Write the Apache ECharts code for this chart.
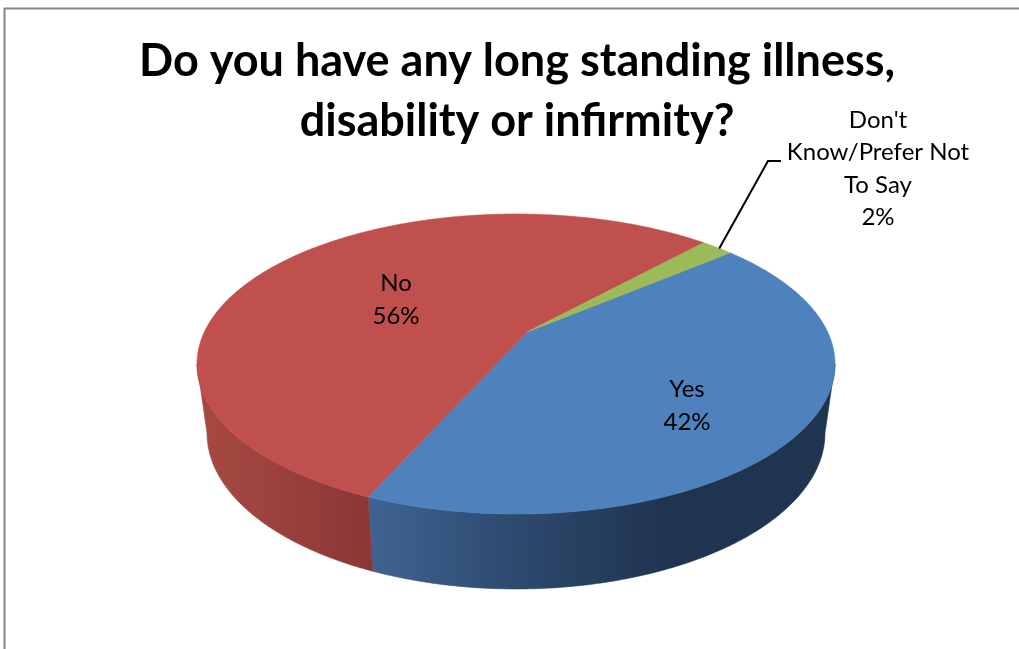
<!DOCTYPE html>
<html><head><meta charset="utf-8">
<style>html,body{margin:0;padding:0;background:#fff}#c{width:1019px;height:649px}</style>
<script src="https://cdn.jsdelivr.net/npm/echarts@6/dist/echarts.min.js"></script>
</head><body><div id="c"></div>
<script>
const titleText = "Do you have any long standing illness,\ndisability or infirmity?";
const categories = ["Yes", "No", "Don't\nKnow/Prefer Not\nTo Say"];
const values = [42, 56, 2];
const topColors = ["#4F81BD", "#C0504D", "#9BBB59"];

// Projection of the pie disc: a perspective view of a circle
const view = {ex:516, ey:364, rx:319, ry:150, apexX:527, apexY:332, lowCy:433, lowRx:309, lowRy:156, startDeg:-38.8};
const k = (182/118-1)/(182/118+1), b = 118*(1+k), a = view.rx*Math.sqrt(1-k*k);
const total = values.reduce((s,v)=>s+v,0);
const starts = values.map((v,i)=>values.slice(0,i).reduce((s,x)=>s+x,0));
const wallFills = [
  {x:372,x2:720,stops:[[0,'#3F6391'],[0.4,'#2E4A70'],[0.85,'#1F344F'],[1,'#1F344F']]},
  {x:200,x2:372,stops:[[0,'#A64942'],[0.5,'#9A403C'],[1,'#8A3735']]},
  null
];
const labelPos = [[687,406],[396,300],[878,169]];

function rim(deg){
  const t=deg*Math.PI/180, s=Math.sin(t), c=Math.cos(t), w=1-k*s;
  return [view.ex+a*c/w, view.apexY+b*s/w];
}
function lowRim(p){
  const t=Math.atan2((p[1]-view.ey)/view.ry,(p[0]-view.ex)/view.rx);
  return [view.ex+view.lowRx*Math.cos(t), view.lowCy+view.lowRy*Math.sin(t)];
}
function arc(d0,d1){
  const n=Math.max(2,Math.ceil(Math.abs(d1-d0)*2)), out=[];
  for(let i=0;i<=n;i++) out.push(rim(d0+(d1-d0)*i/n));
  return out;
}
const frontDeg = Math.asin((view.ey-view.apexY)/(b+k*(view.ey-view.apexY)))*180/Math.PI;

function renderItem(params, api){
  const i=params.dataIndex, v=api.value(0), st=api.value(1);
  const d0=view.startDeg+st/total*360, d1=d0+v/total*360;
  const children=[];
  const f0=Math.max(d0,frontDeg), f1=Math.min(d1,180-frontDeg);
  if(f1>f0 && wallFills[i]){
    const up=arc(f0,f1), low=up.map(lowRim).reverse();
    const wf=wallFills[i];
    const grad={type:'linear',global:true,x:wf.x,y:0,x2:wf.x2,y2:0,
      colorStops:wf.stops.map(s=>({offset:s[0],color:s[1]}))};
    children.push({type:'polygon',shape:{points:up.concat(low)},style:{fill:grad,stroke:grad,lineWidth:0.6}});
  }
  children.push({type:'polygon',shape:{points:[[view.apexX,view.apexY]].concat(arc(d0,d1))},
    style:{fill:topColors[i],stroke:topColors[i],lineWidth:0.6}});
  if(v<5){
    const m=rim((d0+d1)/2);
    children.push({type:'polyline',shape:{points:[[m[0]+2,m[1]+1],[768,161],[781,161]]},style:{stroke:'#000',lineWidth:2,fill:null}});
  }
  children.push({type:'text',x:labelPos[i][0],y:labelPos[i][1],style:{
    text:categories[i]+"\n"+v+"%",fill:'#000',fontFamily:'Lato',fontSize:24,
    align:'center',verticalAlign:'middle',lineHeight:32.5}});
  return {type:'group',children};
}

const chart=echarts.init(document.getElementById('c'),null,{renderer:'canvas'});
chart.setOption({
  animation:false,
  backgroundColor:'#fff',
  title:{text:titleText,left:512,top:26,textAlign:'center',
    textStyle:{fontFamily:'Lato',fontWeight:'bold',fontSize:45,lineHeight:60,color:'#000'}},
  graphic:[{type:'rect',shape:{x:4.5,y:8.5,width:1100,height:800},style:{fill:null,stroke:'#868686',lineWidth:2},silent:true}],
  series:[{type:'custom',coordinateSystem:'none',renderItem,clip:false,
    data:values.map((v,i)=>[v,starts[i]])}]
});
</script></body></html>
